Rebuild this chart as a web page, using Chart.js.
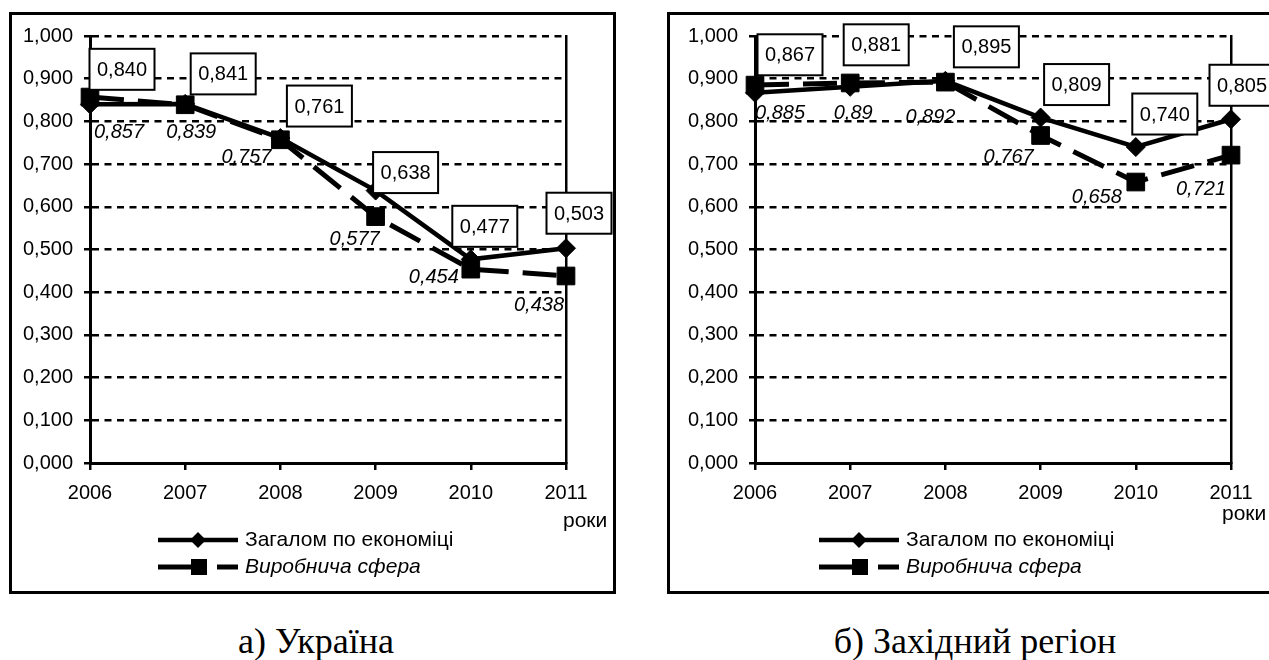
<!DOCTYPE html>
<html>
<head>
<meta charset="utf-8">
<script src="https://cdn.jsdelivr.net/npm/chart.js@4.4.1/dist/chart.umd.min.js"></script>
<style>
  html, body { margin: 0; padding: 0; background: #fff; overflow: hidden; }
  body { width: 1269px; height: 660px; position: relative; font-family: "Liberation Sans", Arial, sans-serif; }
  .frame { position: absolute; border: 3px solid #000; box-sizing: border-box; }
  canvas { position: absolute; }
  .unit { position: absolute; font-size: 21px; line-height: 22px; }
  .caption { position: absolute; font-family: "Liberation Serif", "Times New Roman", serif; font-size: 36px; line-height: 36px; transform: translateX(-50%); white-space: nowrap; }
</style>
</head>
<body>
<div class="frame" style="left:9px;top:12px;width:607px;height:582px"></div>
<div class="frame" style="left:667px;top:12px;width:640px;height:582px"></div>
<canvas id="ukr" width="605" height="580" style="left:10px;top:13px"></canvas>
<canvas id="west" width="622" height="580" style="left:668px;top:13px"></canvas>
<div class="unit" style="left:563px;top:509px">роки</div>
<div class="unit" style="left:1222px;top:502px">роки</div>
<div class="caption" style="left:316px;top:623px">а) Україна</div>
<div class="caption" style="left:975px;top:623px">б) Західний регіон</div>
<script>
var years = ['2006', '2007', '2008', '2009', '2010', '2011'];
var seriesNames = ['Загалом по економіці', 'Виробнича сфера'];
var ukrTotal = [0.840, 0.841, 0.761, 0.638, 0.477, 0.503];
var ukrProd = [0.857, 0.839, 0.757, 0.577, 0.454, 0.438];
var westTotal = [0.867, 0.881, 0.895, 0.809, 0.740, 0.805];
var westProd = [0.885, 0.89, 0.892, 0.767, 0.658, 0.721];

var FONT = '"Liberation Sans", Arial, sans-serif';
Chart.defaults.font.family = FONT;
Chart.defaults.font.size = 20;
Chart.defaults.color = '#000';

function comma(v) { return String(v).replace('.', ','); }

// data labels: boxed for the first series, italic for the second
var valueLabels = {
    id: 'valueLabels',
    afterDatasetsDraw: function(chart, args, opts) {
        var ctx = chart.ctx;
        ctx.save();
        ctx.textAlign = 'center';
        ctx.textBaseline = 'middle';
        chart.data.datasets.forEach(function(ds, di) {
            var meta = chart.getDatasetMeta(di);
            meta.data.forEach(function(pt, i) {
                var x = pt.x + opts.offsets[di][i][0];
                var y = pt.y + opts.offsets[di][i][1];
                if (di === 0) {
                    ctx.fillStyle = '#fff';
                    ctx.fillRect(x - 32.5, y - 20.5, 65, 41);
                    ctx.lineWidth = 2;
                    ctx.strokeStyle = '#000';
                    ctx.strokeRect(x - 32.5, y - 20.5, 65, 41);
                    ctx.font = '20px ' + FONT;
                    ctx.fillStyle = '#000';
                    ctx.fillText(ds.data[i].toFixed(3).replace('.', ','), x, y + 1);
                } else {
                    ctx.font = 'italic 20px ' + FONT;
                    ctx.fillStyle = '#000';
                    ctx.fillText(comma(ds.data[i]), x, y);
                }
            });
        });
        ctx.restore();
    }
};

// excel-like legend: line sample with marker in the middle
var lineLegend = {
    id: 'lineLegend',
    afterDraw: function(chart, args, opts) {
        var ctx = chart.ctx, x = opts.x, y1 = opts.y[0], y2 = opts.y[1];
        ctx.save();
        ctx.strokeStyle = '#000';
        ctx.fillStyle = '#000';
        ctx.lineWidth = 4.5;
        ctx.beginPath(); ctx.moveTo(x, y1); ctx.lineTo(x + 80, y1); ctx.stroke();
        ctx.beginPath();
        ctx.moveTo(x + 40, y1 - 8); ctx.lineTo(x + 48, y1); ctx.lineTo(x + 40, y1 + 8); ctx.lineTo(x + 32, y1);
        ctx.closePath(); ctx.fill();
        ctx.lineWidth = 5;
        ctx.beginPath(); ctx.moveTo(x, y2); ctx.lineTo(x + 44, y2); ctx.stroke();
        ctx.beginPath(); ctx.moveTo(x + 59, y2); ctx.lineTo(x + 80, y2); ctx.stroke();
        ctx.fillRect(x + 33, y2 - 8, 16, 16);
        ctx.textAlign = 'left';
        ctx.textBaseline = 'middle';
        ctx.font = '21px ' + FONT;
        ctx.fillText(seriesNames[0], x + 87, y1);
        ctx.font = 'italic 21px ' + FONT;
        ctx.fillText(seriesNames[1], x + 87, y2);
        ctx.restore();
    }
};

function makeChart(id, totals, prods, yWidth, padRight, offsets, legendX) {
    return new Chart(document.getElementById(id), {
        type: 'line',
        data: {
            labels: years,
            datasets: [
                { label: seriesNames[0], data: totals, borderColor: '#000', backgroundColor: '#000', borderWidth: 4.5,
                  pointStyle: 'rectRot', pointRadius: 9.5, pointBorderWidth: 1, tension: 0, clip: false },
                { label: seriesNames[1], data: prods, borderColor: '#000', backgroundColor: '#000', borderWidth: 5,
                  borderDash: [34, 14], pointStyle: 'rect', pointRadius: 12.5, pointBorderWidth: 1, tension: 0, clip: false }
            ]
        },
        options: {
            responsive: false,
            animation: false,
            devicePixelRatio: 1,
            layout: { padding: { left: 0, top: 18, right: padRight, bottom: 0 } },
            plugins: {
                legend: { display: false },
                tooltip: { enabled: false },
                valueLabels: { offsets: offsets },
                lineLegend: { x: legendX, y: [527, 554] }
            },
            scales: {
                x: {
                    offset: false,
                    grid: { offset: false, drawOnChartArea: false, drawTicks: true, tickLength: 7, color: '#000', lineWidth: 2.5 },
                    border: { color: '#000', width: 3 },
                    ticks: { maxRotation: 0, padding: 11, font: { size: 20 } },
                    afterFit: function(s) { s.height = 130; }
                },
                y: {
                    min: 0, max: 1,
                    grid: { color: '#000', lineWidth: 2.5, drawTicks: true, tickLength: 6, tickColor: '#000', tickWidth: 2.5, tickBorderDash: [] },
                    border: { color: '#000', width: 3, dash: [7, 5.5] },
                    ticks: { stepSize: 0.1, padding: 11, font: { size: 20 },
                             callback: function(v) { return v.toFixed(3).replace('.', ','); } },
                    afterFit: function(s) { s.width = yWidth; }
                },
                yr: {
                    position: 'right', min: 0, max: 1,
                    grid: { display: false },
                    ticks: { display: false },
                    border: { display: true, color: '#000', width: 2.5 },
                    afterFit: function(s) { s.width = 0; }
                }
            }
        },
        plugins: [valueLabels, lineLegend]
    });
}

makeChart('ukr', ukrTotal, ukrProd, 80, 49, [
    [[32, -35], [38, -30], [39, -32], [30, -18], [14, -33], [13, -35]],
    [[29, 35], [6, 28], [-34, 18], [-21, 23], [-37, 8], [-27, 29]]
], 148);

makeChart('west', westTotal, westProd, 87, 59, [
    [[35, -38], [26, -42], [41, -34], [36, -33], [29, -33], [11, -34]],
    [[25, 28], [3, 30], [-15, 35], [-32, 22], [-39, 15], [-30, 34]]
], 151);
</script>
</body>
</html>
